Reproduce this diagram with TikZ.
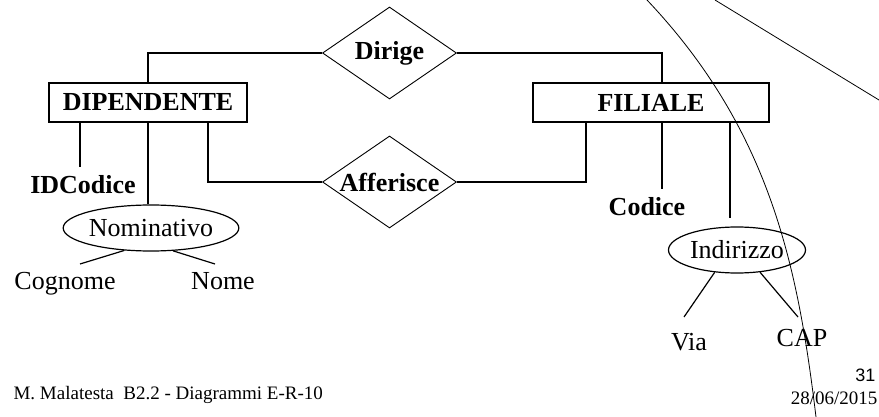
\documentclass[tikz,border=0pt]{standalone}
\usepackage{fontspec}
\setmainfont{Liberation Serif}
\newfontfamily\numfont{Liberation Sans}
\usetikzlibrary{shapes.geometric,positioning}

\newcommand{\erfont}{\fontsize{26}{31}\selectfont}

\begin{document}
\begin{tikzpicture}[x=1pt, y=-1pt, line width=1.2pt,
  entity/.style={draw, rectangle, minimum height=39pt, inner sep=0pt, font=\erfont\bfseries},
  relship/.style={draw, diamond, line width=0.9pt, minimum width=134pt, minimum height=92pt, inner sep=0pt, font=\erfont\bfseries},
  compound/.style={draw, ellipse, minimum height=46pt, inner sep=0pt, font=\erfont},
  keyattr/.style={inner sep=0pt, outer sep=8pt, anchor=north, font=\erfont\bfseries},
  leafattr/.style={inner sep=0pt, outer sep=8pt, anchor=north, font=\erfont},
  footer/.style={inner sep=0pt, font=\fontsize{19}{23}\selectfont},
]

\useasboundingbox (0,0) rectangle (879,417);

% Entities and relationships
\node[entity, minimum width=198pt] (dip) at (148,102.5) {DIPENDENTE};
\node[entity, minimum width=236pt] (fil) at (651,102.5) {FILIALE};

\node[relship] (dirige) at (389.5,53)  {\makebox[0pt]{Dirige}};
\node[relship] (aff)    at (389.5,182) {\makebox[0pt]{Afferisce}};

\draw (dip.north) |- (dirige.west);
\draw ([xshift=11]fil.north) |- (dirige.east);
\draw ([xshift=60]dip.south) |- (aff.west);
\draw ([xshift=-65]fil.south) |- (aff.east);

% Attributes of DIPENDENTE
\node[keyattr] (idcod) at (83,167) {IDCodice};
\node[compound, minimum width=175pt] (nomin) at (151,228) {Nominativo};
\node[leafattr] (cogn) at (65,264)  {Cognome};
\node[leafattr] (nome) at (223,264) {Nome};

\draw ([xshift=-68]dip.south) -- ([xshift=-3]idcod.north);
\draw (dip.south) -- (dip.south |- nomin.north);
\draw (nomin.220) -- ([xshift=15]cogn.north);
\draw (nomin.314) -- ([xshift=-8]nome.north);

% Attributes of FILIALE
\node[keyattr] (cod) at (647,189) {Codice};
\node[compound, minimum width=137pt] (indir) at (737,250) {Indirizzo};
\node[leafattr, outer sep=16pt] (via) at (689,317) {Via};
\node[leafattr, outer sep=12pt] (cap) at (802,317) {CAP};

\coordinate (filaddr) at ([xshift=79]fil.south);
\draw ([xshift=11]fil.south) -- ([xshift=15]cod.north);
\draw[shorten >=8pt] (filaddr) -- (filaddr |- indir.north);
\draw (indir.225) -- ([xshift=-5]via.north);
\draw (indir.316) -- ([xshift=-4]cap.north);

% Pen strokes over the slide
\draw[line width=0.8pt] (647,0) .. controls (771,131) and (798,268) .. (816,417);
\draw[line width=0.8pt] (715,0) -- (879,100);

% Footer
\node[footer, anchor=base west] (author) at (13,399) {M. Malatesta\ \ B2.2 - Diagrammi E-R-10};
\node[footer, anchor=base east, font=\numfont\fontsize{18}{22}\selectfont] (page) at (876,381) {31};
\node[footer, anchor=base east] (date) at (878,404) {28/06/2015};

\end{tikzpicture}
\end{document}
